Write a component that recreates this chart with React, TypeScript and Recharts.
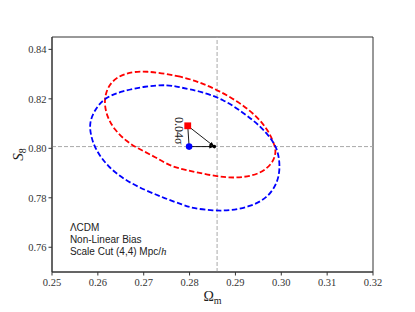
import {
  ComposedChart,
  Line,
  Scatter,
  XAxis,
  YAxis,
  ReferenceLine,
  ReferenceDot,
  ReferenceArea,
} from 'recharts'

// contour points (Omega_m, S8), drawn as closed curves
const redContour = [
  { x: 0.2703, y: 0.8315 },
  { x: 0.2779, y: 0.8292 },
  { x: 0.2823, y: 0.8267 },
  { x: 0.2866, y: 0.8231 },
  { x: 0.291, y: 0.8184 },
  { x: 0.2947, y: 0.8129 },
  { x: 0.2973, y: 0.8069 },
  { x: 0.2987, y: 0.8007 },
  { x: 0.2988, y: 0.7979 },
  { x: 0.2981, y: 0.7939 },
  { x: 0.2955, y: 0.7898 },
  { x: 0.2917, y: 0.7882 },
  { x: 0.2881, y: 0.7881 },
  { x: 0.2837, y: 0.7894 },
  { x: 0.2794, y: 0.7912 },
  { x: 0.2761, y: 0.7925 },
  { x: 0.2725, y: 0.7965 },
  { x: 0.2688, y: 0.7999 },
  { x: 0.2663, y: 0.8027 },
  { x: 0.2636, y: 0.8075 },
  { x: 0.262, y: 0.8128 },
  { x: 0.2614, y: 0.8182 },
  { x: 0.2617, y: 0.8224 },
  { x: 0.2629, y: 0.8271 },
  { x: 0.2659, y: 0.8305 },
]

const blueContour = [
  { x: 0.2703, y: 0.8251 },
  { x: 0.2754, y: 0.8258 },
  { x: 0.2779, y: 0.8246 },
  { x: 0.2823, y: 0.8231 },
  { x: 0.2874, y: 0.8198 },
  { x: 0.2918, y: 0.8143 },
  { x: 0.2955, y: 0.8089 },
  { x: 0.298, y: 0.8034 },
  { x: 0.2992, y: 0.7994 },
  { x: 0.2998, y: 0.7927 },
  { x: 0.2992, y: 0.7859 },
  { x: 0.2969, y: 0.7798 },
  { x: 0.2932, y: 0.7764 },
  { x: 0.2888, y: 0.7748 },
  { x: 0.2852, y: 0.7748 },
  { x: 0.2808, y: 0.7757 },
  { x: 0.2786, y: 0.7771 },
  { x: 0.2746, y: 0.7798 },
  { x: 0.2703, y: 0.7831 },
  { x: 0.2658, y: 0.7872 },
  { x: 0.2621, y: 0.7927 },
  { x: 0.2595, y: 0.7994 },
  { x: 0.2585, y: 0.8048 },
  { x: 0.2581, y: 0.8102 },
  { x: 0.2593, y: 0.8156 },
  { x: 0.2615, y: 0.8205 },
  { x: 0.2652, y: 0.8231 },
]

const fiducial = { x: 0.286, y: 0.8007 }
const blueBest = [{ x: 0.2799, y: 0.8007 }]
const redBest = [{ x: 0.2796, y: 0.8091 }]
const shiftPoint = [{ x: 0.2854, y: 0.8007 }]

const xTicks = [0.25, 0.26, 0.27, 0.28, 0.29, 0.3, 0.31, 0.32]
const yTicks = [0.76, 0.78, 0.8, 0.82, 0.84]
const annotation = ['\u039bCDM', 'Non-Linear Bias', 'Scale Cut (4,4) Mpc/']
const shiftLabel = '0.04\u03c3'

const serif = '"Liberation Serif", "DejaVu Serif", serif'
const sans = '"Liberation Sans", "DejaVu Sans", sans-serif'

function Arrow(props: any) {
  const { x1, y1, x2, y2 } = props
  const ang = Math.atan2(y2 - y1, x2 - x1)
  const len = 5
  const w = 2
  const bx = x2 - len * Math.cos(ang)
  const by = y2 - len * Math.sin(ang)
  const px = -Math.sin(ang) * w
  const py = Math.cos(ang) * w
  return (
    <g>
      <line x1={x1} y1={y1} x2={x2} y2={y2} stroke="#000" strokeWidth={0.9} />
      <polygon
        points={`${x2},${y2} ${bx + px},${by + py} ${bx - px},${by - py}`}
        fill="#000"
      />
    </g>
  )
}

function XLabel(props: any) {
  const { viewBox } = props
  const cx = viewBox.x + viewBox.width / 2
  return (
    <text x={cx} y={viewBox.y + 29} textAnchor="middle" fontFamily={serif} fontSize={14} fill="#222">
      {'\u03a9'}
      <tspan fontSize={10} dy={3}>m</tspan>
    </text>
  )
}

function YLabel(props: any) {
  const { viewBox } = props
  const cx = viewBox.x + 11
  const cy = viewBox.y + viewBox.height / 2
  return (
    <text
      x={cx}
      y={cy}
      transform={`rotate(-90 ${cx} ${cy})`}
      textAnchor="middle"
      fontFamily={serif}
      fontSize={15}
      fill="#222"
    >
      <tspan fontStyle="italic">S</tspan>
      <tspan fontSize={10} dy={3}>8</tspan>
    </text>
  )
}

export default function App() {
  return (
    <div style={{ position: 'fixed', left: 0, top: 0, width: 415, height: 312, background: '#fff' }}>
      <ComposedChart width={415} height={312} margin={{ top: 37, right: 42, bottom: 15, left: 12 }}>
        <XAxis
          dataKey="x"
          type="number"
          domain={[0.25, 0.32]}
          ticks={xTicks}
          allowDataOverflow
          tickFormatter={(v: number) => v.toFixed(2)}
          tick={{ fontFamily: serif, fontSize: 10.5, fill: '#333' }}
          tickSize={3.5}
          tickMargin={3}
          stroke="#333"
          height={25}
          label={<XLabel />}
        />
        <YAxis
          dataKey="y"
          type="number"
          domain={[0.75, 0.845]}
          ticks={yTicks}
          allowDataOverflow
          tickFormatter={(v: number) => v.toFixed(2)}
          tick={{ fontFamily: serif, fontSize: 10.5, fill: '#333' }}
          tickSize={3.5}
          tickMargin={2}
          stroke="#333"
          width={40}
          label={<YLabel />}
        />
        <ReferenceArea x1={0.25} x2={0.32} y1={0.75} y2={0.845} fill="none" stroke="#333" strokeWidth={1} />
        <ReferenceLine x={fiducial.x} stroke="#aaa" strokeDasharray="4 2" strokeWidth={1} />
        <ReferenceLine y={fiducial.y} stroke="#aaa" strokeDasharray="4 2" strokeWidth={1} />
        <Line
          data={redContour}
          dataKey="y"
          type="basisClosed"
          stroke="#ff0000"
          strokeWidth={1.8}
          strokeDasharray="5.5 2.5"
          dot={false}
          activeDot={false}
          isAnimationActive={false}
        />
        <Line
          data={blueContour}
          dataKey="y"
          type="basisClosed"
          stroke="#0000ff"
          strokeWidth={1.8}
          strokeDasharray="5.5 2.5"
          dot={false}
          activeDot={false}
          isAnimationActive={false}
        />
        <ReferenceLine
          segment={[blueBest[0], redBest[0]]}
          shape={(p: any) => <line x1={p.x1} y1={p.y1} x2={p.x2} y2={p.y2} stroke="#000" strokeWidth={0.9} />}
        />
        <ReferenceLine segment={[blueBest[0], shiftPoint[0]]} shape={Arrow} />
        <ReferenceLine segment={[redBest[0], shiftPoint[0]]} shape={Arrow} />
        <Scatter
          data={shiftPoint}
          fill="#000"
          isAnimationActive={false}
          shape={(p: any) => <circle cx={p.cx} cy={p.cy} r={1.8} fill="#000" />}
        />
        <Scatter
          data={blueBest}
          fill="#0000ff"
          isAnimationActive={false}
          shape={(p: any) => <circle cx={p.cx} cy={p.cy} r={3.3} fill="#0000ff" />}
        />
        <Scatter
          data={redBest}
          fill="#ff0000"
          isAnimationActive={false}
          shape={(p: any) => <rect x={p.cx - 3.4} y={p.cy - 3.4} width={6.8} height={6.8} fill="#ff0000" />}
        />
        <ReferenceDot
          x={0.2778}
          y={0.8071}
          shape={(p: any) => (
            <text
              x={p.cx}
              y={p.cy}
              transform={`rotate(90 ${p.cx} ${p.cy})`}
              textAnchor="middle"
              dominantBaseline="central"
              fontFamily={serif}
              fontSize={12}
              fill="#222"
            >
              {shiftLabel}
            </text>
          )}
        />
        <ReferenceDot
          x={0.2539}
          y={0.7664}
          shape={(p: any) => (
            <text x={p.cx} y={p.cy} fontFamily={sans} fontSize={10} fill="#222">
              <tspan x={p.cx}>{annotation[0]}</tspan>
              <tspan x={p.cx} dy={12}>{annotation[1]}</tspan>
              <tspan x={p.cx} dy={12}>
                {annotation[2]}
                <tspan fontFamily={serif} fontStyle="italic" fontSize={11}>h</tspan>
              </tspan>
            </text>
          )}
        />
      </ComposedChart>
    </div>
  )
}
